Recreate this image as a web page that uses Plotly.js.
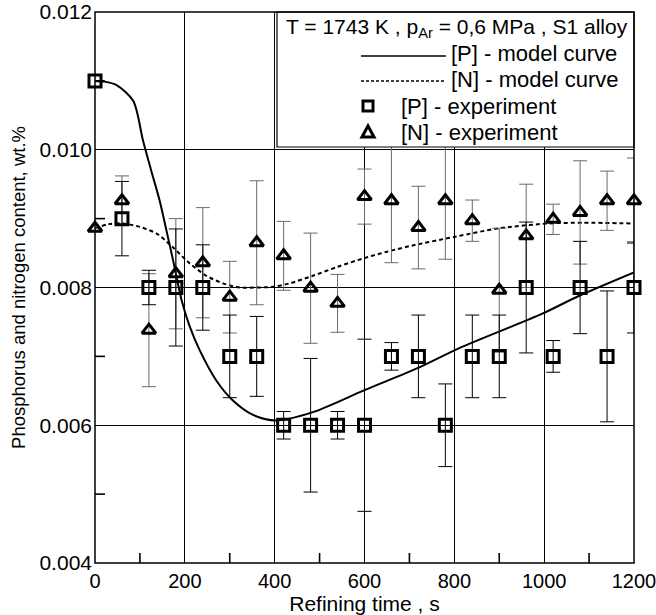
<!DOCTYPE html>
<html>
<head>
<meta charset="utf-8">
<script src="https://cdn.plot.ly/plotly-3.0.1.min.js"></script>
<style>
  html, body { margin: 0; padding: 0; background: #fff; }
  #chart { width: 656px; height: 615px; }
</style>
</head>
<body>
<div id="chart"></div>
<script>
// ---- data ----
const times = [0, 60, 120, 180, 240, 300, 360, 420, 480, 540, 600, 660, 720, 780, 840, 900, 960, 1020, 1080, 1140, 1200];
const pExp = [0.0110, 0.0090, 0.0080, 0.0080, 0.0080, 0.0070, 0.0070, 0.0060, 0.0060, 0.0060, 0.0060, 0.0070, 0.0070, 0.0060, 0.0070, 0.0070, 0.0080, 0.0070, 0.0080, 0.0070, 0.0080];
const pErr = [0, 0.00054, 0.00025, 0.00085, 0.00062, 0.0006, 0.00058, 0.0002, 0.00097, 0.0002, 0.00125, 0.0002, 0.0006, 0.0006, 0.0006, 0.0006, 0.00095, 0.00023, 0.00067, 0.00095, 0.00066];
const nExp = [0.00886, 0.00926, 0.00738, 0.0082, 0.00836, 0.00786, 0.00865, 0.00846, 0.00799, 0.00777, 0.00932, 0.00926, 0.00887, 0.00926, 0.00897, 0.00796, 0.00875, 0.00899, 0.00909, 0.00926, 0.00926];
const nErr = [0, 0.00036, 0.00082, 0.0008, 0.0008, 0.00052, 0.0009, 0.0005, 0.0008, 0.00042, 0.0004, 0.0009, 0.0006, 0.00085, 0.0003, 0.0009, 0.00075, 0.00022, 0.00075, 0.00043, 0.00062];

const pModelT = [0, 20, 48, 85, 107, 125, 144, 160, 174, 193, 210, 233, 270, 307, 352, 403, 485, 600, 722, 811, 996, 1078, 1200];
const pModelV = [0.0110, 0.01099, 0.01094, 0.01071, 0.01013, 0.00970, 0.00926, 0.00880, 0.00839, 0.00781, 0.00745, 0.00709, 0.00665, 0.00636, 0.00615, 0.00607, 0.00619, 0.00651, 0.00684, 0.00712, 0.00762, 0.00788, 0.00822];
const nModelT = [0, 30, 62, 100, 138, 174, 211, 248, 285, 322, 359, 396, 433, 485, 540, 596, 650, 707, 804, 900, 1011, 1085, 1200];
const nModelV = [0.00886, 0.00892, 0.00893, 0.00888, 0.00878, 0.00858, 0.00835, 0.00817, 0.00806, 0.0080, 0.0080, 0.00801, 0.00806, 0.00817, 0.0083, 0.00842, 0.00852, 0.00861, 0.00874, 0.00886, 0.00893, 0.00894, 0.00893];

const xTickVals = [0, 200, 400, 600, 800, 1000, 1200];
const xTickText = ['0', '200', '400', '600', '800', '1000', '1200'];
const xMinorVals = [100, 300, 500, 700, 900, 1100];
const yTickVals = [0.004, 0.006, 0.008, 0.010, 0.012];
const yTickText = ['0.004', '0.006', '0.008', '0.010', '0.012'];
const yMinorVals = [0.005, 0.007, 0.009, 0.011];

const legendTitle = 'T = 1743 K , p<sub>Ar</sub> = 0,6 MPa , S1 alloy';
const legendLabels = ['[P] - model curve', '[N] - model curve', '[P] - experiment', '[N] - experiment'];

// ---- layout geometry ----
const W = 656, H = 615;
const M = {l: 95, r: 22, t: 12, b: 52};
const PW = W - M.l - M.r, PH = H - M.t - M.b;
const px = v => (v - M.l) / PW;      // pixel x -> paper
const py = v => (H - M.b - v) / PH;  // pixel y -> paper
const X_RANGE = [0, 1200], Y_RANGE = [0.004, 0.012];

const FONT = 'Liberation Sans, Arial, sans-serif';

const traces = [
  {
    x: pModelT, y: pModelV, type: 'scatter', mode: 'lines', name: legendLabels[0],
    line: {color: '#000', width: 2, shape: 'spline', smoothing: 0.8}, cliponaxis: false
  },
  {
    x: nModelT, y: nModelV, type: 'scatter', mode: 'lines', name: legendLabels[1],
    line: {color: '#000', width: 2, dash: '4px,3px', shape: 'spline', smoothing: 0.8}, cliponaxis: false
  },
  {
    x: times, y: nExp, type: 'scatter', mode: 'markers', name: legendLabels[3],
    marker: {symbol: 'triangle-up-open', size: 12, color: '#000', line: {width: 3, color: '#000'}},
    error_y: {type: 'data', array: nErr, visible: true, color: '#6a6a6a', thickness: 1, width: 7},
    cliponaxis: false
  },
  {
    x: times, y: pExp, type: 'scatter', mode: 'markers', name: legendLabels[2],
    marker: {symbol: 'square-open', size: 12, color: '#000', line: {width: 3, color: '#000'}},
    error_y: {type: 'data', array: pErr, visible: true, color: '#000', thickness: 1, width: 7},
    cliponaxis: false
  }
];

// ---- minor tick marks (inside, bottom and left), positioned from axis values ----
const TL = 10; // tick length in px
const xFrac = v => (v - X_RANGE[0]) / (X_RANGE[1] - X_RANGE[0]);
const yFrac = v => (v - Y_RANGE[0]) / (Y_RANGE[1] - Y_RANGE[0]);
const tickShapes = [
  ...xMinorVals.map(v => ({type: 'line', xref: 'paper', yref: 'paper',
    x0: xFrac(v), x1: xFrac(v), y0: 0, y1: TL / PH, line: {color: '#000', width: 1.6}, layer: 'above'})),
  ...yMinorVals.map(v => ({type: 'line', xref: 'paper', yref: 'paper',
    x0: 0, x1: TL / PW, y0: yFrac(v), y1: yFrac(v), line: {color: '#000', width: 1.6}, layer: 'above'}))
];

// ---- hand-drawn legend box (covers grid & error bars like the original) ----
const shapes = tickShapes.concat([
  {type: 'rect', xref: 'paper', yref: 'paper', x0: px(277), x1: 1, y0: py(147), y1: 1,
   fillcolor: '#fff', line: {color: '#000', width: 1.2}, layer: 'above'},
  {type: 'line', xref: 'paper', yref: 'paper', x0: px(361), x1: px(446), y0: py(56), y1: py(56),
   line: {color: '#000', width: 1.5}, layer: 'above'},
  {type: 'line', xref: 'paper', yref: 'paper', x0: px(361), x1: px(446), y0: py(81), y1: py(81),
   line: {color: '#000', width: 1.5, dash: '3px,2px'}, layer: 'above'},
  {type: 'rect', xref: 'paper', yref: 'paper', xsizemode: 'pixel', ysizemode: 'pixel',
   xanchor: px(368), yanchor: py(106), x0: -5, x1: 5, y0: -5, y1: 5,
   line: {color: '#000', width: 3}, layer: 'above'},
  {type: 'path', xref: 'paper', yref: 'paper', xsizemode: 'pixel', ysizemode: 'pixel',
   xanchor: px(368), yanchor: py(133), path: 'M-6,-4 L6,-4 L0,7 Z',
   line: {color: '#000', width: 3}, layer: 'above'},
  // frame
  {type: 'rect', xref: 'paper', yref: 'paper', x0: 0, x1: 1, y0: 0, y1: 1,
   line: {color: '#000', width: 1.5}, layer: 'above'}
]);

const annFont = {family: FONT, size: 22, color: '#000'};
const annotations = [
  {xref: 'paper', yref: 'paper', x: px(284), y: py(28), xanchor: 'left', yanchor: 'middle',
   text: legendTitle, showarrow: false, font: {family: FONT, size: 21, color: '#000'}},
  {xref: 'paper', yref: 'paper', x: px(449), y: py(54), xanchor: 'left', yanchor: 'middle',
   text: legendLabels[0], showarrow: false, font: annFont},
  {xref: 'paper', yref: 'paper', x: px(449), y: py(80), xanchor: 'left', yanchor: 'middle',
   text: legendLabels[1], showarrow: false, font: annFont},
  {xref: 'paper', yref: 'paper', x: px(399), y: py(106), xanchor: 'left', yanchor: 'middle',
   text: legendLabels[2], showarrow: false, font: annFont},
  {xref: 'paper', yref: 'paper', x: px(399), y: py(132), xanchor: 'left', yanchor: 'middle',
   text: legendLabels[3], showarrow: false, font: annFont}
];

const layout = {
  width: W, height: H,
  margin: M,
  paper_bgcolor: '#fff', plot_bgcolor: '#fff',
  showlegend: false,
  font: {family: FONT, size: 20, color: '#000'},
  xaxis: {
    range: X_RANGE, tickmode: 'array', tickvals: xTickVals, ticktext: xTickText,
    showgrid: true, gridcolor: '#000', gridwidth: 1,
    zeroline: false, showline: false, ticks: '',
    ticklabelstandoff: 4, ticklabeloverflow: 'allow',
    tickfont: {family: FONT, size: 20, color: '#000'},
    title: {text: 'Refining time , s', font: {family: FONT, size: 21, color: '#000'}, standoff: 0}
  },
  yaxis: {
    range: Y_RANGE, tickmode: 'array', tickvals: yTickVals, ticktext: yTickText,
    showgrid: true, gridcolor: '#000', gridwidth: 1,
    zeroline: false, showline: false, ticks: '',
    ticklabelstandoff: 2, ticklabeloverflow: 'allow',
    tickfont: {family: FONT, size: 21, color: '#000'},
    title: {text: 'Phosphorus and nitrogen content, wt.%', font: {family: FONT, size: 18.5, color: '#000'}, standoff: 8}
  },
  shapes: shapes,
  annotations: annotations
};

Plotly.newPlot('chart', traces, layout, {staticPlot: true, displayModeBar: false});
</script>
</body>
</html>
